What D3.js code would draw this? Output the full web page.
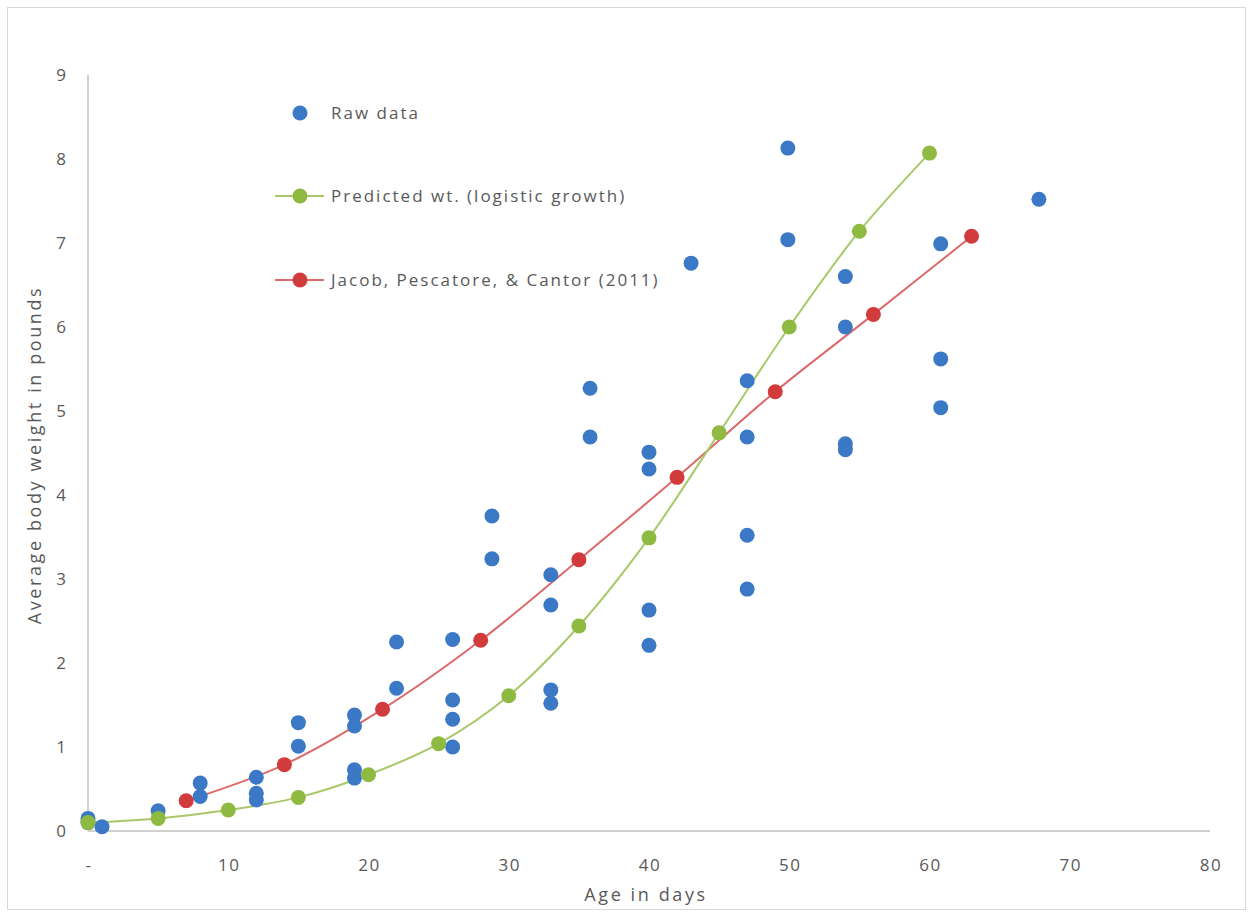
<!DOCTYPE html>
<html>
<head>
<meta charset="utf-8">
<script src="https://cdn.jsdelivr.net/npm/d3@7"></script>
<style>
  body { margin: 0; background: #fff; }
  text { font-family: "Open Sans", sans-serif; fill: #595959; }
</style>
</head>
<body>
<div id="chart"></div>
<script>
// raw observations (age in days, weight in pounds)
const rawAge = [0, 0, 1, 5, 8, 8, 12, 12, 12, 15, 15, 19, 19, 19, 19, 22, 22,
    26, 26, 26, 26, 28.8, 28.8, 33, 33, 33, 33, 35.8, 35.8, 40, 40, 40, 40, 43,
    47, 47, 47, 47, 49.9, 49.9, 54, 54, 54, 54, 60.8, 60.8, 60.8, 67.8];
const rawWt = [0.15, 0.1, 0.05, 0.24, 0.57, 0.41, 0.64, 0.45, 0.37, 1.29, 1.01, 1.38, 1.25, 0.73, 0.63, 2.25, 1.70,
    2.28, 1.56, 1.33, 1.0, 3.75, 3.24, 3.05, 2.69, 1.68, 1.52, 5.27, 4.69, 4.51, 4.31, 2.63, 2.21, 6.76,
    5.36, 4.69, 3.52, 2.88, 8.13, 7.04, 6.6, 6.0, 4.61, 4.54, 6.99, 5.62, 5.04, 7.52];

// predicted weight (logistic growth)
const predAge = [0, 5, 10, 15, 20, 25, 30, 35, 40, 45, 50, 55, 60];
const predWt = [0.1, 0.15, 0.25, 0.40, 0.67, 1.04, 1.61, 2.44, 3.49, 4.74, 6.0, 7.14, 8.07];

// Jacob, Pescatore, & Cantor (2011)
const jacobAge = [7, 14, 21, 28, 35, 42, 49, 56, 63];
const jacobWt = [0.36, 0.79, 1.45, 2.27, 3.23, 4.21, 5.23, 6.15, 7.08];

const xTicks = [0, 10, 20, 30, 40, 50, 60, 70, 80];
const yTicks = [0, 1, 2, 3, 4, 5, 6, 7, 8, 9];
const legendLabels = ['Raw data', 'Predicted wt. (logistic growth)', 'Jacob, Pescatore, & Cantor (2011)'];

const width = 1252;
const height = 913;
const blue = '#3b78c6', green = '#8fba42', red = '#d23b3b';

const svg = d3.select('#chart').append('svg')
    .attr('width', width)
    .attr('height', height);

// outer frame
svg.append('rect')
    .attr('x', 7.5).attr('y', 7.5)
    .attr('width', 1238).attr('height', 902)
    .style('fill', '#fff')
    .style('stroke', '#d9d9d9');

const x = d3.scaleLinear().domain([0, 80]).range([88, 1210]);
const y = d3.scaleLinear().domain([0, 9]).range([831, 75]);

// axes lines
svg.append('line')
    .attr('x1', x(0)).attr('x2', x(0))
    .attr('y1', y(9)).attr('y2', y(0))
    .style('stroke', '#d0d0d0').style('stroke-width', 2);
svg.append('line')
    .attr('x1', x(0)).attr('x2', x(80))
    .attr('y1', y(0)).attr('y2', y(0))
    .style('stroke', '#d0d0d0').style('stroke-width', 2);

// tick labels
svg.selectAll('.ytick').data(yTicks).join('text')
    .attr('class', 'ytick')
    .attr('x', 66)
    .attr('y', d => y(d))
    .attr('dy', '0.35em')
    .attr('text-anchor', 'end')
    .style('font-size', '17px')
    .text(d => d);

svg.selectAll('.xtick').data(xTicks).join('text')
    .attr('class', 'xtick')
    .attr('x', d => x(d) + 1)
    .attr('y', 865)
    .attr('dy', '0.35em')
    .attr('text-anchor', 'middle')
    .style('font-size', '17px')
    .style('letter-spacing', '1.5px')
    .text(d => d === 0 ? '-' : d);

// axis titles
svg.append('text')
    .attr('x', 646).attr('y', 895)
    .attr('dy', '0.35em')
    .attr('text-anchor', 'middle')
    .style('font-size', '18px')
    .style('letter-spacing', '2.6px')
    .text('Age in days');

svg.append('text')
    .attr('transform', 'translate(35,455) rotate(-90)')
    .attr('dy', '0.35em')
    .attr('text-anchor', 'middle')
    .style('font-size', '18px')
    .style('letter-spacing', '2.6px')
    .text('Average body weight in pounds');

const line = d3.line()
    .x(d => x(d[0]))
    .y(d => y(d[1]))
    .curve(d3.curveCatmullRom);

const predPts = predAge.map((a, i) => [a, predWt[i]]);
const jacobPts = jacobAge.map((a, i) => [a, jacobWt[i]]);
const rawPts = rawAge.map((a, i) => [a, rawWt[i]]);

svg.append('path')
    .attr('d', line(jacobPts))
    .style('fill', 'none')
    .style('stroke', '#dc6a6a')
    .style('stroke-width', 2);

svg.append('path')
    .attr('d', line(predPts))
    .style('fill', 'none')
    .style('stroke', '#a8c86a')
    .style('stroke-width', 2);

svg.selectAll('.raw').data(rawPts).join('circle')
    .attr('class', 'raw')
    .attr('cx', d => x(d[0]))
    .attr('cy', d => y(d[1]))
    .attr('r', 7.5)
    .style('fill', blue);

svg.selectAll('.jacob').data(jacobPts).join('circle')
    .attr('class', 'jacob')
    .attr('cx', d => x(d[0]))
    .attr('cy', d => y(d[1]))
    .attr('r', 7.5)
    .style('fill', red);

svg.selectAll('.pred').data(predPts).join('circle')
    .attr('class', 'pred')
    .attr('cx', d => x(d[0]))
    .attr('cy', d => y(d[1]))
    .attr('r', 7.5)
    .style('fill', green);

// legend
const legend = svg.append('g');
const legendY = [113, 196, 280];
const legendColors = [blue, green, red];
const legendLine = [null, '#a8c86a', '#dc6a6a'];

legendLabels.forEach((label, i) => {
    if (legendLine[i]) {
        legend.append('line')
            .attr('x1', 275).attr('x2', 324)
            .attr('y1', legendY[i]).attr('y2', legendY[i])
            .style('stroke', legendLine[i])
            .style('stroke-width', 2);
    }
    legend.append('circle')
        .attr('cx', 300).attr('cy', legendY[i])
        .attr('r', 7.5)
        .style('fill', legendColors[i]);
    legend.append('text')
        .attr('x', 331).attr('y', legendY[i])
        .attr('dy', '0.35em')
        .style('font-size', '17px')
        .style('letter-spacing', '2px')
        .text(label);
});
</script>
</body>
</html>
